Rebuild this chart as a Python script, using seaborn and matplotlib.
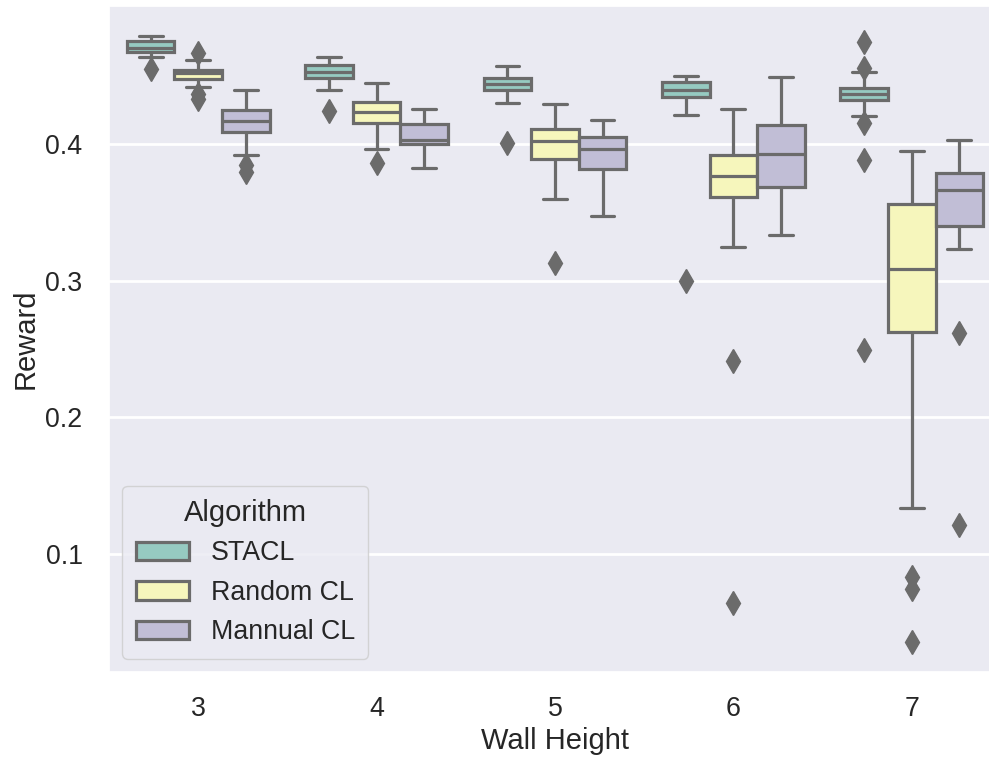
import pandas as pd
import matplotlib
matplotlib.use("Agg")
import matplotlib.pyplot as plt
import seaborn as sns

# rewards per wall height (3..7)
heights = [3, 4, 5, 6, 7]
algorithms = ["STACL", "Random CL", "Mannual CL"]

stacl = [
    [0.4550, 0.4635, 0.4652, 0.4665, 0.4674, 0.4683, 0.4690, 0.4697, 0.4703,
     0.4718, 0.4731, 0.4742, 0.4752, 0.4761, 0.4770, 0.4780, 0.4788],
    [0.4241, 0.4396, 0.4430, 0.4458, 0.4480, 0.4492, 0.4505, 0.4517, 0.4528,
     0.4540, 0.4553, 0.4565, 0.4577, 0.4592, 0.4605, 0.4620, 0.4637],
    [0.4010, 0.4301, 0.4350, 0.4378, 0.4396, 0.4408, 0.4420, 0.4431, 0.4440,
     0.4452, 0.4463, 0.4474, 0.4484, 0.4505, 0.4525, 0.4548, 0.4569],
    [0.2999, 0.4209, 0.4270, 0.4310, 0.4340, 0.4355, 0.4370, 0.4385, 0.4397,
     0.4412, 0.4428, 0.4443, 0.4457, 0.4466, 0.4476, 0.4486, 0.4496],
    [0.2495, 0.3885, 0.4153, 0.4204, 0.4320, 0.4332, 0.4345, 0.4356, 0.4366,
     0.4378, 0.4390, 0.4401, 0.4411, 0.4460, 0.4523, 0.4557, 0.4746],
]
random_cl = [
    [0.4326, 0.4365, 0.4418, 0.4450, 0.4475, 0.4490, 0.4503, 0.4512, 0.4520,
     0.4527, 0.4533, 0.4538, 0.4543, 0.4570, 0.4592, 0.4611, 0.4662],
    [0.3864, 0.3961, 0.4050, 0.4110, 0.4151, 0.4175, 0.4200, 0.4220, 0.4234,
     0.4255, 0.4275, 0.4292, 0.4309, 0.4340, 0.4375, 0.4410, 0.4447],
    [0.3129, 0.3596, 0.3720, 0.3820, 0.3893, 0.3930, 0.3965, 0.3995, 0.4022,
     0.4045, 0.4070, 0.4092, 0.4112, 0.4160, 0.4205, 0.4250, 0.4290],
    [0.0643, 0.2409, 0.3245, 0.3450, 0.3615, 0.3650, 0.3690, 0.3730, 0.3766,
     0.3805, 0.3845, 0.3885, 0.3920, 0.3990, 0.4070, 0.4160, 0.4254],
    [0.0357, 0.0746, 0.0828, 0.1339, 0.2623, 0.2740, 0.2860, 0.2975, 0.3088,
     0.3210, 0.3330, 0.3445, 0.3560, 0.3680, 0.3780, 0.3870, 0.3946],
]
manual_cl = [
    [0.3795, 0.3845, 0.3920, 0.4010, 0.4088, 0.4110, 0.4135, 0.4152, 0.4168,
     0.4190, 0.4212, 0.4230, 0.4246, 0.4280, 0.4320, 0.4365, 0.4394],
    [0.3823, 0.3880, 0.3935, 0.3975, 0.4002, 0.4010, 0.4017, 0.4022, 0.4027,
     0.4060, 0.4090, 0.4120, 0.4144, 0.4170, 0.4200, 0.4230, 0.4253],
    [0.3469, 0.3600, 0.3700, 0.3770, 0.3815, 0.3850, 0.3890, 0.3930, 0.3961,
     0.3985, 0.4010, 0.4032, 0.4051, 0.4080, 0.4110, 0.4145, 0.4175],
    [0.3336, 0.3450, 0.3560, 0.3640, 0.3685, 0.3750, 0.3820, 0.3880, 0.3928,
     0.3985, 0.4040, 0.4090, 0.4136, 0.4220, 0.4310, 0.4400, 0.4493],
    [0.1209, 0.2617, 0.3231, 0.3320, 0.3401, 0.3470, 0.3540, 0.3610, 0.3666,
     0.3700, 0.3730, 0.3760, 0.3788, 0.3850, 0.3920, 0.3980, 0.4031],
]


def build_frame():
    rows = []
    for name, series in zip(algorithms, [stacl, random_cl, manual_cl]):
        for h, values in zip(heights, series):
            for v in values:
                rows.append({"Wall Height": h, "Reward": v, "Algorithm": name})
    return pd.DataFrame(rows)


df = build_frame()

sns.set_theme(style="darkgrid", font_scale=1.75,
              rc={"grid.linewidth": 2.0,
                  "xtick.major.pad": 11, "ytick.major.pad": 13})
plt.rcParams["font.family"] = ["Liberation Sans", "DejaVu Sans"]

fig = plt.figure(figsize=(9.89, 7.61), dpi=100)
ax = fig.add_axes([0.1102, 0.117, 0.9019, 0.8751])

gray = "0.42"
sns.boxplot(data=df, x="Wall Height", y="Reward", hue="Algorithm",
            hue_order=algorithms, palette="Set3", linewidth=2.3,
            linecolor=gray, fliersize=12,
            flierprops={"marker": "d", "markerfacecolor": gray,
                        "markeredgecolor": gray},
            ax=ax)

ax.set_yticks([0.1, 0.2, 0.3, 0.4])
sns.move_legend(ax, "lower left", title="Algorithm", borderpad=0.5)

fig.savefig("out.png", dpi=100)
